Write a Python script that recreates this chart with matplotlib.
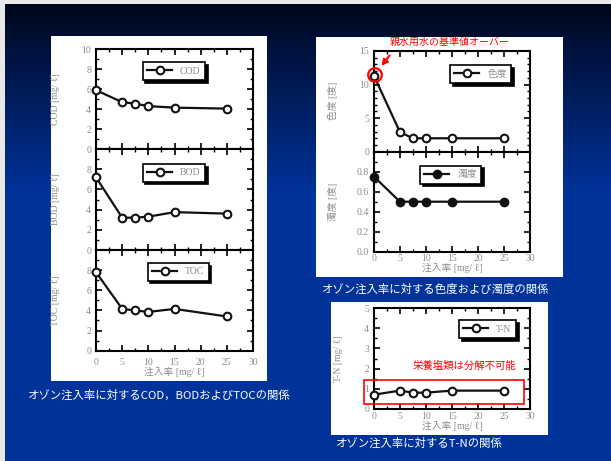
import matplotlib.pyplot as plt
import numpy as np
from matplotlib.patches import Rectangle, Circle
from matplotlib.ticker import MultipleLocator

# ozone dose [mg/l]
dose = [0, 5, 7.5, 10, 15, 25]
cod = [5.9, 4.7, 4.55, 4.3, 4.15, 4.05]
bod = [7.2, 3.2, 3.2, 3.3, 3.75, 3.6]
toc = [7.8, 4.15, 4.0, 3.85, 4.15, 3.4]
color_deg = [11.3, 2.9, 2.0, 2.0, 2.0, 2.0]
turbidity = [0.75, 0.5, 0.5, 0.5, 0.5, 0.5]
tn = [0.7, 0.9, 0.8, 0.8, 0.9, 0.9]

W, H = 611, 461
GRAY = '#8c8c8c'
SERIF = ['Liberation Serif', 'Noto Sans CJK JP', 'DejaVu Sans']
JP = ['Noto Sans CJK JP', 'DejaVu Sans']

fig = plt.figure(figsize=(W / 100, H / 100), dpi=100)


def px_axes(x0, y0, x1, y1, **kw):
    return fig.add_axes([x0 / W, 1 - y1 / H, (x1 - x0) / W, (y1 - y0) / H], **kw)


# background slide
bg = px_axes(0, 0, W, H, zorder=0)
bg.set_axis_off()
rows = np.arange(H)
t = np.clip((rows - 5) / 190.0, 0, 1) ** 0.9
top = np.array([0, 5, 24]) / 255
bot = np.array([0, 51, 154]) / 255
img = top[None, :] + (bot - top)[None, :] * t[:, None]
img = np.repeat(img[:, None, :], W, axis=1)
img[:5, :, :] = 0.91
img[:, :5, :] = 0.91
bg.imshow(img, extent=[0, W, H, 0], aspect='auto', interpolation='bilinear')
bg.set_xlim(0, W)
bg.set_ylim(H, 0)

for (x0, y0, x1, y1) in [(51, 36, 267, 381), (316, 37, 563, 277), (331, 302, 548, 435)]:
    bg.add_patch(Rectangle((x0, y0), x1 - x0, y1 - y0, facecolor='white', edgecolor='none'))

bg.text(28, 395, 'オゾン注入率に対するCOD，BODおよびTOCの関係', color='white', fontsize=8.2,
        family=JP, va='center', ha='left')
bg.text(436, 289, 'オゾン注入率に対する色度および濁度の関係', color='white', fontsize=8.2,
        family=JP, va='center', ha='center')
bg.text(336, 443, 'オゾン注入率に対するT-Nの関係', color='white', fontsize=8.2,
        family=JP, va='center', ha='left')


def style(ax, ymax, ystep, yminor, ylabel, show_x=False, hide_top=False, fmt='%g',
          xpad=2.0):
    ax.set_xlim(0, 30)
    ax.set_ylim(0, ymax)
    ax.xaxis.set_major_locator(MultipleLocator(5))
    ax.xaxis.set_minor_locator(MultipleLocator(2.5))
    ticks = np.arange(0, ymax + ystep / 2, ystep)
    labels = [fmt % v for v in ticks]
    if hide_top:
        labels[-1] = ''
    ax.set_yticks(ticks, labels)
    ax.yaxis.set_minor_locator(MultipleLocator(yminor))
    ax.tick_params(which='both', direction='in', top=True, right=True, color='black',
                   labelcolor=GRAY, labelsize=7, labelbottom=show_x)
    ax.tick_params(axis='y', which='both', pad=3.5)
    ax.tick_params(axis='x', which='both', pad=xpad)
    ax.tick_params(which='major', length=4, width=1.2)
    ax.tick_params(which='minor', length=2.5, width=1.0)
    for lab in ax.get_xticklabels() + ax.get_yticklabels():
        lab.set_family(SERIF)
    for s in ax.spines.values():
        s.set_linewidth(1.5)
    ax.set_ylabel(ylabel, color=GRAY, fontsize=7, family=SERIF)
    ax.yaxis.set_label_coords(-0.23, 0.5)
    if show_x:
        ax.set_xlabel('注入率 [mg/ ℓ]', color=GRAY, fontsize=7, family=SERIF, labelpad=0)


def series(ax, y, label, anchor, filled=False):
    ax.plot(dose, y, '-o', color='#111111', lw=1.6, ms=5.5, mew=1.5,
            mfc='#111111' if filled else 'white', mec='#111111', label=label, clip_on=False,
            zorder=5)
    leg = ax.legend(loc='upper right', bbox_to_anchor=anchor, fancybox=False, framealpha=1,
                    edgecolor='black', shadow={'color': 'black', 'alpha': 1},
                    handlelength=2.6, borderpad=0.45, labelcolor=GRAY,
                    prop={'family': SERIF, 'size': 7})
    leg.get_frame().set_linewidth(1.2)


ax1 = px_axes(96, 49.3, 253, 149)
series(ax1, cod, 'COD', (0.725, 0.92))
style(ax1, 10, 2, 1, 'COD [mg/ ℓ]')

ax2 = px_axes(96, 149, 253, 250)
series(ax2, bod, 'BOD', (0.725, 0.90))
style(ax2, 10, 2, 1, 'BOD [mg/ ℓ]', hide_top=True)

ax3 = px_axes(96, 250, 253, 350.7)
series(ax3, toc, 'TOC', (0.748, 0.92))
style(ax3, 10, 2, 1, 'TOC [mg/ ℓ]', show_x=True, hide_top=True, xpad=5.5)

ax4 = px_axes(374, 51, 530, 151.7)
series(ax4, color_deg, '色度', (0.91, 0.91))
style(ax4, 15, 5, 1, '色度 [度]')

ax5 = px_axes(374, 151.7, 530, 251.7)
series(ax5, turbidity, '濁度', (0.718, 0.91), filled=True)
style(ax5, 1.0, 0.2, 0.1, '濁度 [度]', show_x=True, hide_top=True, fmt='%.1f', xpad=1.5)

ax6 = px_axes(374, 308.3, 530, 408.7)
series(ax6, tn, 'T-N', (0.94, 0.93))
style(ax6, 5, 1, 0.5, 'T-N [mg/ ℓ]', show_x=True, xpad=2.2)
ax6.yaxis.set_label_coords(-0.2, 0.5)

# red annotations on top of everything
ov = px_axes(0, 0, W, H, zorder=20)
ov.set_axis_off()
ov.patch.set_alpha(0)
ov.set_xlim(0, W)
ov.set_ylim(H, 0)
ov.text(450, 41.5, '親水用水の基準値オーバー', color='red', fontsize=7.2, family=JP,
        ha='center', va='center')
ov.add_patch(Circle((375, 75), 6.8, fill=False, edgecolor='red', lw=1.6))
ov.annotate('', xy=(381.5, 66), xytext=(389.5, 55.5),
            arrowprops=dict(arrowstyle='-|>', color='red', lw=1.5, mutation_scale=9,
                            shrinkA=0, shrinkB=0))
ov.text(465, 366, '栄養塩類は分解不可能', color='red', fontsize=7.5, family=JP,
        ha='center', va='center')
ov.add_patch(Rectangle((364, 380), 160, 24, fill=False, edgecolor='red', lw=1.2))

fig.savefig('out.png', dpi=100)
